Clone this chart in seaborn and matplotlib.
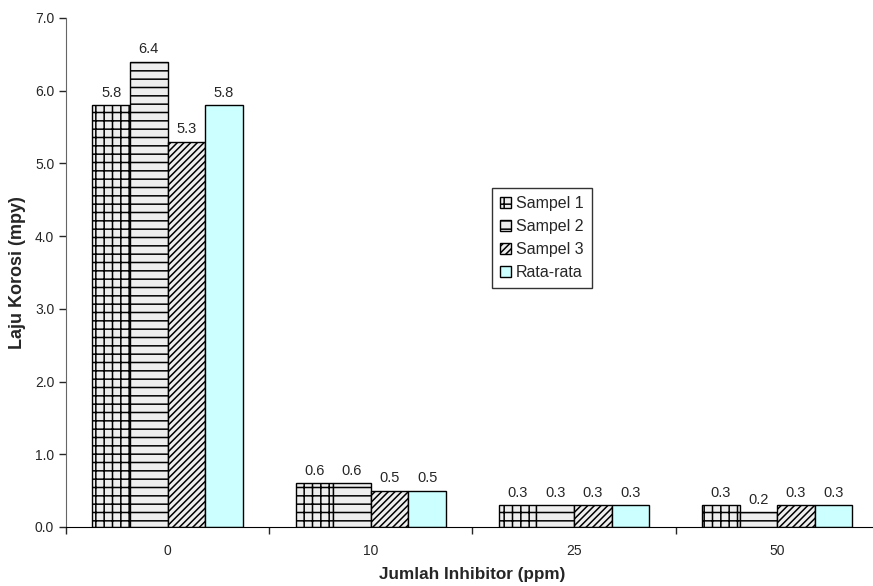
import matplotlib.pyplot as plt
import numpy as np
import pandas as pd
import seaborn as sns
from matplotlib.ticker import FixedLocator, FormatStrFormatter


inhibitor = ['0', '10', '25', '50']
series = ['Sampel 1', 'Sampel 2', 'Sampel 3', 'Rata-rata']
sampel_1 = [5.8, 0.6, 0.3, 0.3]
sampel_2 = [6.4, 0.6, 0.3, 0.2]
sampel_3 = [5.3, 0.5, 0.3, 0.3]
rata_rata = [5.8, 0.5, 0.3, 0.3]

df = pd.DataFrame({
    'inhibitor': inhibitor * 4,
    'sampel': np.repeat(series, len(inhibitor)),
    'laju': sampel_1 + sampel_2 + sampel_3 + rata_rata,
})

sns.set_style('white')
plt.rcParams['font.family'] = ['Liberation Sans', 'DejaVu Sans']
plt.rcParams['hatch.linewidth'] = 1.1

colors = ['#eeeeee', '#eeeeee', '#eeeeee', '#ccffff']
hatches = ['++', '--', '/////', '']

fig = plt.figure(figsize=(8.73, 5.86), dpi=100)
# axes runs a little past the right edge, like the original Excel export
ax = fig.add_axes([0.0756, 0.1007, 0.931, 0.8686])

sns.barplot(
    data=df, x='inhibitor', y='laju', hue='sampel',
    order=inhibitor, hue_order=series,
    palette=colors, saturation=1, width=0.74, gap=0,
    edgecolor='black', linewidth=1, legend=False, ax=ax,
)

for cont, h in zip(ax.containers, hatches):
    for p in cont.patches:
        p.set_hatch(h)
    ax.bar_label(cont, fmt='%.1f', padding=4, fontsize=10.5)

ax.set_ylim(0, 7)
ax.set_xlim(-0.5, 3.5)
ax.yaxis.set_major_locator(FixedLocator(np.arange(0, 7.5, 1.0)))
ax.yaxis.set_major_formatter(FormatStrFormatter('%.1f'))
ax.xaxis.set_minor_locator(FixedLocator([-0.5, 0.5, 1.5, 2.5]))
ax.tick_params(axis='x', which='major', length=0, pad=12, labelsize=10)
ax.tick_params(axis='x', which='minor', length=5, width=1, direction='out', bottom=True)
ax.tick_params(axis='y', length=5, width=1, direction='out', left=True, labelsize=10)

for side in ['top', 'right']:
    ax.spines[side].set_visible(False)
ax.spines['left'].set_color('#666666')
ax.spines['bottom'].set_color('black')

ax.set_xlabel('Jumlah Inhibitor (ppm)', fontsize=12.3, fontweight='bold', labelpad=7)
ax.set_ylabel('Laju Korosi (mpy)', fontsize=13, fontweight='bold', labelpad=6)

leg = ax.legend(
    handles=[c.patches[0] for c in ax.containers], labels=series,
    loc='center', bbox_to_anchor=((542 - 66) / 813, (527 - 238) / 509), fontsize=11.5,
    frameon=True, fancybox=False, shadow=False, edgecolor='black',
    handlelength=0.7, handleheight=0.7, handletextpad=0.3,
    labelspacing=0.5, borderpad=0.5, borderaxespad=0,
)
leg.get_frame().set_linewidth(1)

fig.savefig('out.png', dpi=100)
